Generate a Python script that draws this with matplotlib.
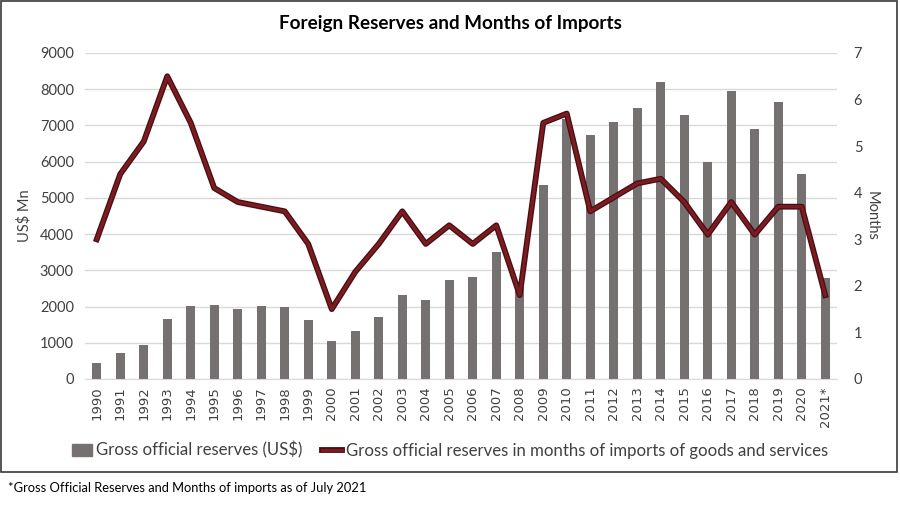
import matplotlib
matplotlib.use("Agg")
import matplotlib.pyplot as plt
import matplotlib.patheffects as pe
from matplotlib.patches import Rectangle, Patch
from matplotlib.lines import Line2D
import numpy as np

years = ['1990', '1991', '1992', '1993', '1994', '1995', '1996', '1997', '1998', '1999',
         '2000', '2001', '2002', '2003', '2004', '2005', '2006', '2007', '2008', '2009',
         '2010', '2011', '2012', '2013', '2014', '2015', '2016', '2017', '2018', '2019',
         '2020', '2021*']
reserves = [430, 710, 930, 1660, 2010, 2050, 1930, 2020, 1990, 1630,
            1040, 1330, 1700, 2320, 2180, 2720, 2820, 3500, 2550, 5350,
            7190, 6740, 7090, 7480, 8190, 7290, 6000, 7940, 6900, 7640,
            5650, 2800]
months = [3.0, 4.4, 5.1, 6.5, 5.5, 4.1, 3.8, 3.7, 3.6, 2.9,
          1.5, 2.3, 2.9, 3.6, 2.9, 3.3, 2.9, 3.3, 1.8, 5.5,
          5.7, 3.6, 3.9, 4.2, 4.3, 3.8, 3.1, 3.8, 3.1, 3.7,
          3.7, 1.8]

bar_col = '#767171'
line_col = '#7b1c22'
txt_col = '#404040'

plt.rcParams['font.family'] = ['Lato', 'DejaVu Sans']

fig = plt.figure(figsize=(9, 5.23), dpi=100)
ax = fig.add_axes([85/900, 1-379/523, (837-85)/900, (379-53)/523])
x = np.arange(len(years))

ax.bar(x, reserves, width=0.38, color=bar_col, zorder=2)
ax.set_xlim(-0.5, len(years) - 0.5)
ax.set_ylim(0, 9000)
ax.set_yticks(np.arange(0, 9001, 1000))
ax.grid(axis='y', color='#d9d9d9', linewidth=1, zorder=0)
ax.set_axisbelow(True)
for s in ax.spines.values():
    s.set_visible(False)
ax.spines['bottom'].set_visible(True)
ax.spines['bottom'].set_color('#d9d9d9')
ax.tick_params(length=0, labelsize=10.5, colors=txt_col, pad=8)
ax.set_xticks(x)
ax.set_xticklabels(years, rotation=90, fontsize=9.5, family=['DejaVu Sans'])
ax.tick_params(axis='x', pad=5)
ax.set_ylabel('US$ Mn', fontsize=10.5, color=txt_col, labelpad=6)

ax2 = ax.twinx()
ax2.plot(x, months, color=line_col, linewidth=2.3, zorder=3,
         path_effects=[pe.Stroke(linewidth=4.2, foreground='#4a0e12'), pe.Normal()])
ax2.set_ylim(0, 7)
ax2.set_yticks(np.arange(0, 8, 1))
for s in ax2.spines.values():
    s.set_visible(False)
ax2.tick_params(length=0, labelsize=10.5, colors=txt_col, pad=12)
ax2.set_ylabel('Months', fontsize=10.5, color=txt_col, rotation=270, labelpad=12)

fig.text(0.5, 1-24/523, 'Foreign Reserves and Months of Imports', ha='center', va='center',
         fontsize=13.6, fontweight='bold', color='black')

handles = [Patch(facecolor=bar_col, edgecolor=bar_col),
           Line2D([0], [0], color=line_col, linewidth=2.3,
                  path_effects=[pe.Stroke(linewidth=4.2, foreground='#4a0e12'), pe.Normal()])]
fig.legend(handles, ['Gross official reserves (US$)',
                     'Gross official reserves in months of imports of goods and services'],
           loc='center', bbox_to_anchor=(0.5, 1-450/523), ncol=2, frameon=False,
           fontsize=12.1, handlelength=1.2, handletextpad=0.2, columnspacing=1.2,
           labelcolor=txt_col)

fig.patches.append(Rectangle((1/900, 1-472/523), 896/900, 471/523, transform=fig.transFigure,
                             fill=False, edgecolor='#3a3a3a', linewidth=1.2))

fig.text(8/900, 1-488/523, '*Gross Official Reserves and Months of imports as of July 2021',
         ha='left', va='center', fontsize=9.3, color='black')

fig.savefig('out.png', dpi=100)
